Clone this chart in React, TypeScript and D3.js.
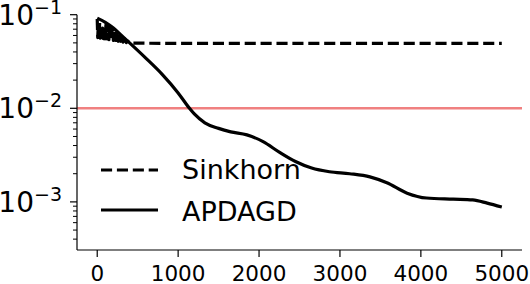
import React from "react";
import * as d3 from "d3";

const sinkIter = [0, 6, 14, 22, 30, 38, 48, 56, 66, 76, 86, 96, 108, 120, 132, 144, 158, 172, 186, 200, 215, 230, 245, 260, 275, 290, 305, 320, 340, 360, 380, 400, 450, 600, 800, 1500, 3000, 5000];
const sinkVal = [0.09, 0.057, 0.078, 0.057, 0.082, 0.056, 0.07, 0.056, 0.072, 0.0555, 0.074, 0.055, 0.078, 0.055, 0.077, 0.054, 0.074, 0.054, 0.071, 0.053, 0.068, 0.053, 0.064, 0.052, 0.061, 0.052, 0.058, 0.051, 0.055, 0.0505, 0.052, 0.05, 0.0498, 0.0496, 0.0494, 0.0494, 0.0494, 0.0494];

const apdIter = [0, 100, 200, 300, 400, 600, 800, 1000, 1140, 1200, 1330, 1500, 1650, 1850, 2050, 2250, 2450, 2650, 2870, 3120, 3370, 3580, 3830, 4070, 4400, 4640, 4820, 5000];
const apdVal = [0.092, 0.083, 0.072, 0.06, 0.05, 0.0344, 0.0232, 0.0146, 0.01, 0.0087, 0.007, 0.0061, 0.0056, 0.0052, 0.0044, 0.0034, 0.0027, 0.0023, 0.0021, 0.002, 0.00185, 0.0016, 0.00124, 0.0011, 0.00107, 0.00105, 0.00097, 0.00088];

const threshold = 0.01;
const xTicks = [0, 1000, 2000, 3000, 4000, 5000];
const yMajor = [1e-3, 1e-2, 1e-1];
const yExp = ["−3", "−2", "−1"];
const legendNames = ["Sinkhorn", "APDAGD"];

const W = 530, H = 284;
const x = d3.scaleLinear().domain([-250, 5250]).range([77, 522]);
const y = d3.scaleLog().domain([Math.pow(10, -3.514), 0.1]).range([250, 14.7]);

export default function App() {
  const line = d3.line<[number, number]>().x(d => x(d[0])).y(d => y(d[1]));
  const smooth = d3.line<[number, number]>().x(d => x(d[0])).y(d => y(d[1])).curve(d3.curveMonotoneX);
  const sinkData = sinkIter.map((t, i) => [t, sinkVal[i]] as [number, number]);
  const apdData = apdIter.map((t, i) => [t, apdVal[i]] as [number, number]);
  const minor: number[] = [];
  [-4, -3, -2].forEach(e => {
    for (let m = 2; m <= 9; m++) {
      const v = m * Math.pow(10, e);
      if (v >= y.domain()[0] && v <= y.domain()[1]) minor.push(v);
    }
  });
  const font = "DejaVu Sans, sans-serif";
  return (
    <svg width={W} height={H} style={{ position: "absolute", left: 0, top: 0, background: "#fff" }} fontFamily={font}>
      <line x1={77} x2={522} y1={y(threshold)} y2={y(threshold)} stroke="#F08080" strokeWidth={2.5} />
      <path d={line(sinkData) || ""} fill="none" stroke="#000" strokeWidth={3.2} strokeDasharray="11.1,4.8" strokeLinejoin="round" />
      <path d={smooth(apdData) || ""} fill="none" stroke="#000" strokeWidth={3.2} strokeLinejoin="round" />
      {/* axes */}
      <line x1={77} x2={77} y1={14.7} y2={250} stroke="#000" strokeWidth={1.2} />
      <line x1={77} x2={522} y1={250} y2={250} stroke="#000" strokeWidth={1.2} />
      {xTicks.map(t => (
        <g key={t}>
          <line x1={x(t)} x2={x(t)} y1={250} y2={257} stroke="#000" strokeWidth={1.2} />
          <text x={x(t)} y={281} fontSize={21.5} textAnchor="middle">{t}</text>
        </g>
      ))}
      {yMajor.map((v, i) => (
        <g key={v}>
          <line x1={70} x2={77} y1={y(v)} y2={y(v)} stroke="#000" strokeWidth={1.2} />
          <text x={62} y={y(v) + 10} fontSize={28} textAnchor="end">10<tspan dy={-11} fontSize={19}>{yExp[i]}</tspan></text>
        </g>
      ))}
      {minor.map(v => (
        <line key={v} x1={73} x2={77} y1={y(v)} y2={y(v)} stroke="#000" strokeWidth={1} />
      ))}
      {/* legend */}
      <line x1={101} x2={158} y1={170} y2={170} stroke="#000" strokeWidth={3.2} strokeDasharray="11.1,4.8" />
      <text x={182} y={179} fontSize={27}>{legendNames[0]}</text>
      <line x1={101} x2={158} y1={210} y2={210} stroke="#000" strokeWidth={3.2} />
      <text x={182} y={221} fontSize={27}>{legendNames[1]}</text>
    </svg>
  );
}
